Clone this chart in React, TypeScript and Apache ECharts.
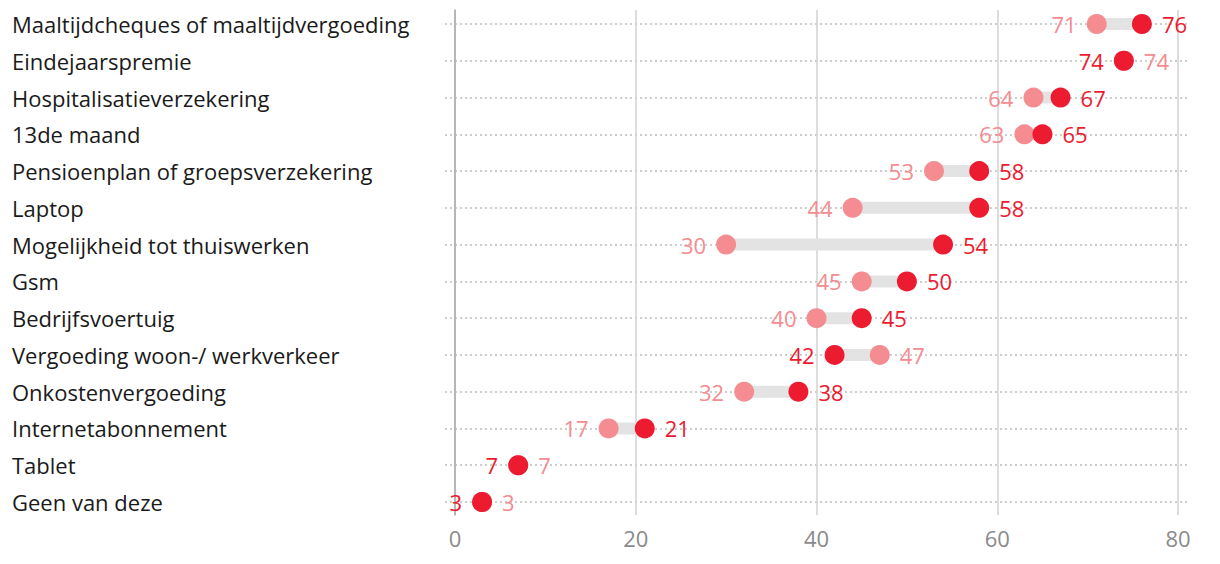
import React, { useEffect, useRef } from "react";
import * as echarts from "echarts";

const categories = [
  "Maaltijdcheques of maaltijdvergoeding",
  "Eindejaarspremie",
  "Hospitalisatieverzekering",
  "13de maand",
  "Pensioenplan of groepsverzekering",
  "Laptop",
  "Mogelijkheid tot thuiswerken",
  "Gsm",
  "Bedrijfsvoertuig",
  "Vergoeding woon-/ werkverkeer",
  "Onkostenvergoeding",
  "Internetabonnement",
  "Tablet",
  "Geen van deze",
];
const previous = [71, 74, 64, 63, 53, 44, 30, 45, 40, 47, 32, 17, 7, 3];
const current = [76, 74, 67, 65, 58, 58, 54, 50, 45, 42, 38, 21, 7, 3];
const xTicks = [0, 20, 40, 60, 80];

const RED = "#ec1b30";
const PINK = "#f48c91";
const FONT = "Open Sans";

export default function App() {
  const ref = useRef<HTMLDivElement>(null);
  useEffect(() => {
    document.body.style.margin = "0";
    if (!ref.current) return;
    const chart = echarts.init(ref.current, undefined, { renderer: "svg" });
    const pinkData = previous.map((v, i) => ({
      value: [v, i],
      label: { position: v >= current[i] ? "right" : "left" },
    }));
    const redData = current.map((v, i) => ({
      value: [v, i],
      label: { position: v > previous[i] ? "right" : "left" },
    }));
    const rangeData = categories.map((_, i) => [
      Math.min(previous[i], current[i]),
      Math.max(previous[i], current[i]),
      i,
    ]);
    chart.setOption({
      animation: false,
      textStyle: { fontFamily: FONT },
      grid: [
        { left: 455, right: 42, top: 10, bottom: 49 },
        { left: 445, right: 32, top: 24, bottom: 62 },
      ],
      xAxis: [
        {
          gridIndex: 0,
          type: "value",
          min: 0,
          max: 80,
          interval: 20,
          axisLine: { show: false },
          axisTick: { show: false },
          axisLabel: {
            color: "#8a8a8a",
            fontSize: 22,
            fontFamily: FONT,
            margin: 12,
            formatter: (v: number) => (xTicks.includes(v) ? String(v) : ""),
          },
          splitLine: { lineStyle: { color: "#d2d2d2", width: 1.5 } },
        },
        {
          gridIndex: 1,
          type: "value",
          min: -1.1,
          max: 81.1,
          show: false,
        },
      ],
      yAxis: [
        {
          gridIndex: 0,
          type: "value",
          min: 0,
          max: 1,
          axisLine: { show: true, lineStyle: { color: "#a8a8a8", width: 1.5 } },
          axisTick: { show: false },
          axisLabel: { show: false },
          splitLine: { show: false },
        },
        {
          gridIndex: 1,
          type: "category",
          data: categories,
          inverse: true,
          boundaryGap: false,
          axisLine: { show: false },
          axisTick: { show: false },
          axisLabel: {
            color: "#1a1a1a",
            fontSize: 22,
            fontFamily: FONT,
            align: "left",
            margin: 433,
          },
          splitLine: {
            show: true,
            lineStyle: { color: "#bdbdbd", type: [2, 3], width: 1.5 },
          },
        },
      ],
      series: [
        {
          type: "custom",
          xAxisIndex: 1,
          yAxisIndex: 1,
          data: rangeData,
          renderItem: (params: any, api: any) => {
            const a = api.coord([api.value(0), api.value(2)]);
            const b = api.coord([api.value(1), api.value(2)]);
            return {
              type: "rect",
              shape: { x: a[0], y: a[1] - 6, width: b[0] - a[0], height: 12 },
              style: { fill: "#e3e3e3" },
            };
          },
          z: 1,
        },
        {
          type: "scatter",
          xAxisIndex: 1,
          yAxisIndex: 1,
          data: pinkData,
          symbolSize: 20,
          itemStyle: { color: PINK, opacity: 1 },
          label: {
            show: true,
            color: PINK,
            fontSize: 22,
            fontFamily: FONT,
            distance: 10,
            formatter: (p: any) => String(p.value[0]),
          },
          z: 2,
        },
        {
          type: "scatter",
          xAxisIndex: 1,
          yAxisIndex: 1,
          data: redData,
          symbolSize: 20,
          itemStyle: { color: RED, opacity: 1 },
          label: {
            show: true,
            color: RED,
            fontSize: 22,
            fontFamily: FONT,
            distance: 10,
            formatter: (p: any) => String(p.value[0]),
          },
          z: 3,
        },
      ],
    });
    return () => chart.dispose();
  }, []);
  return <div ref={ref} style={{ width: 1220, height: 564 }} />;
}
